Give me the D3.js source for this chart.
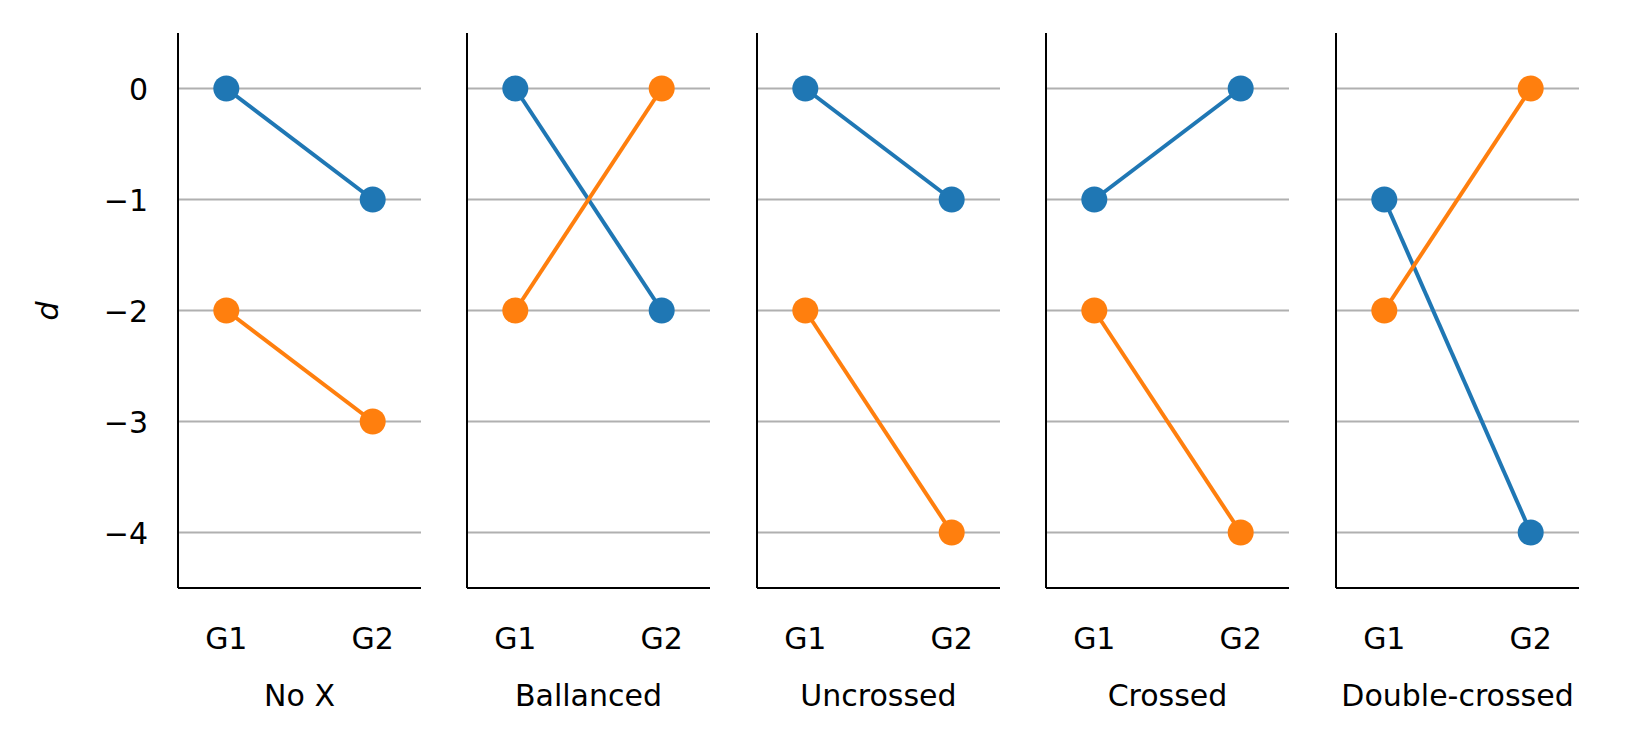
<!DOCTYPE html>
<html lang="en">
<head>
<meta charset="UTF-8">
<script src="https://d3js.org/d3.v7.min.js"></script>
<style>
  html, body { margin: 0; background: #fff; }
  text { font-family: "DejaVu Sans", sans-serif; }
</style>
</head>
<body>
<svg width="1643" height="743"></svg>
<script>
const panels = ["No X", "Ballanced", "Uncrossed", "Crossed", "Double-crossed"];
const groups = ["G1", "G2"];
const blue = [[0, -1], [0, -2], [0, -1], [-1, 0], [-1, -4]];
const orange = [[-2, -3], [-2, 0], [-2, -4], [-2, -4], [-2, 0]];
const yTicks = [0, -1, -2, -3, -4];

const svg = d3.select("svg");
const y = d3.scaleLinear().domain([-4.5, 0.5]).range([588, 33]);
const panelLeft = [178, 467, 757, 1046, 1336];
const panelW = 243;

panels.forEach((name, i) => {
  const g = svg.append("g").attr("transform", `translate(${panelLeft[i]},0)`);
  const x = d3.scalePoint().domain(groups).range([0, panelW]).padding(0.33);

  g.selectAll("line.grid").data(yTicks).enter().append("line")
    .attr("x1", 0).attr("x2", panelW)
    .attr("y1", d => y(d)).attr("y2", d => y(d))
    .attr("stroke", "#b0b0b0").attr("stroke-width", 2);

  g.append("line").attr("x1", 0).attr("x2", 0).attr("y1", 33).attr("y2", 588)
    .attr("stroke", "#000").attr("stroke-width", 2);
  g.append("line").attr("x1", 0).attr("x2", panelW).attr("y1", 588).attr("y2", 588)
    .attr("stroke", "#000").attr("stroke-width", 2);

  [[blue[i], "#1f77b4"], [orange[i], "#ff7f0e"]].forEach(([vals, c]) => {
    const pts = groups.map((gr, k) => [x(gr), y(vals[k])]);
    g.append("path").attr("d", d3.line()(pts)).attr("stroke", c)
      .attr("stroke-width", 4).attr("fill", "none");
    g.selectAll(null).data(pts).enter().append("circle")
      .attr("cx", d => d[0]).attr("cy", d => d[1]).attr("r", 13).attr("fill", c);
  });

  g.selectAll("text.xt").data(groups).enter().append("text")
    .attr("x", d => x(d)).attr("y", 649).attr("text-anchor", "middle")
    .attr("font-size", 30).text(d => d);
  g.append("text").attr("x", panelW / 2).attr("y", 706).attr("text-anchor", "middle")
    .attr("font-size", 30).text(name);

  if (i === 0) {
    g.selectAll("text.yt").data(yTicks).enter().append("text")
      .attr("x", -30).attr("y", d => y(d) + 11).attr("text-anchor", "end")
      .attr("font-size", 30).text(d => d < 0 ? "\u2212" + (-d) : d);
  }
});

svg.append("text").attr("transform", "translate(58,311) rotate(-90)")
  .attr("text-anchor", "middle").attr("font-size", 30).attr("font-style", "italic").text("d");
</script>
</body>
</html>
